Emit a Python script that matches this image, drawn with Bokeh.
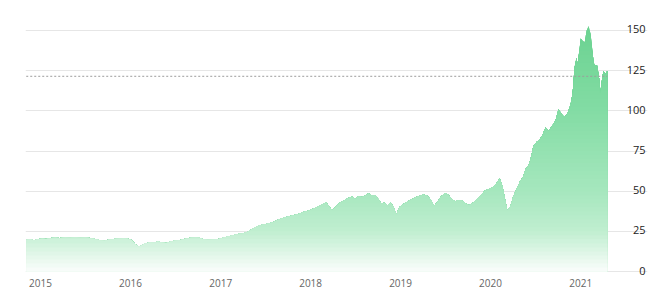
import numpy as np
import pandas as pd
from bokeh.plotting import figure
from bokeh.models import Range1d, FixedTicker, DatetimeTickFormatter
from bokeh.core.properties import value
from bokeh.embed import file_html
from bokeh.resources import INLINE

# ---------------- data ----------------
dates = [
    "2014-11-04", "2014-11-20", "2014-12-06", "2014-12-23", "2015-01-09", "2015-01-25",
    "2015-02-10", "2015-03-01", "2015-03-21", "2015-04-11", "2015-05-01", "2015-05-21",
    "2015-06-11", "2015-07-01", "2015-07-21", "2015-08-11", "2015-09-01", "2015-09-17",
    "2015-10-03", "2015-10-23", "2015-11-13", "2015-12-03", "2015-12-19", "2016-01-05",
    "2016-01-21", "2016-02-02", "2016-02-15", "2016-02-27", "2016-03-09", "2016-03-21",
    "2016-04-07", "2016-04-23", "2016-05-09", "2016-05-25", "2016-06-11", "2016-07-01",
    "2016-07-21", "2016-08-11", "2016-09-01", "2016-09-21", "2016-10-07", "2016-10-23",
    "2016-11-09", "2016-11-29", "2016-12-19", "2017-01-09", "2017-01-29", "2017-02-19",
    "2017-03-09", "2017-03-29", "2017-04-19", "2017-05-05", "2017-05-21", "2017-06-07",
    "2017-06-23", "2017-07-13", "2017-08-03", "2017-08-23", "2017-09-13", "2017-10-03",
    "2017-10-23", "2017-11-13", "2017-12-03", "2017-12-23", "2018-01-13", "2018-02-02",
    "2018-02-19", "2018-03-05", "2018-03-17", "2018-03-29", "2018-04-15", "2018-05-01",
    "2018-05-17", "2018-06-03", "2018-06-19", "2018-07-01", "2018-07-13", "2018-07-29",
    "2018-08-15", "2018-08-23", "2018-09-05", "2018-09-21", "2018-10-03", "2018-10-15",
    "2018-10-27", "2018-11-09", "2018-11-21", "2018-12-03", "2018-12-15", "2018-12-27",
    "2019-01-13", "2019-01-29", "2019-02-15", "2019-03-01", "2019-03-17", "2019-04-03",
    "2019-04-19", "2019-05-05", "2019-05-17", "2019-05-29", "2019-06-15", "2019-07-01",
    "2019-07-13", "2019-07-29", "2019-08-11", "2019-08-23", "2019-09-09", "2019-09-25",
    "2019-10-07", "2019-10-23", "2019-11-09", "2019-11-25", "2019-12-11", "2019-12-27",
    "2020-01-13", "2020-01-25", "2020-02-07", "2020-02-19", "2020-03-01", "2020-03-09",
    "2020-03-21", "2020-04-03", "2020-04-19", "2020-05-01", "2020-05-13", "2020-05-21",
    "2020-06-03", "2020-06-11", "2020-06-23", "2020-07-05", "2020-07-17", "2020-07-29",
    "2020-08-11", "2020-08-23", "2020-09-09", "2020-09-21", "2020-10-03", "2020-10-15",
    "2020-10-27", "2020-11-09", "2020-11-21", "2020-11-29", "2020-12-07", "2020-12-15",
    "2020-12-19", "2020-12-27", "2021-01-01", "2021-01-09", "2021-01-17", "2021-01-25",
    "2021-02-02", "2021-02-10", "2021-02-19", "2021-02-23", "2021-03-01", "2021-03-09",
    "2021-03-17", "2021-03-21", "2021-03-29", "2021-04-03", "2021-04-11", "2021-04-19",
]
prices = [
    19.8, 20.0, 19.4, 20.2, 20.4, 20.2,
    20.8, 21.0, 20.8, 21.2, 21.0, 21.3,
    21.0, 21.2, 20.9, 20.3, 19.5, 19.2,
    19.8, 20.3, 20.6, 20.9, 20.6, 19.6,
    17.0, 15.6, 16.2, 17.4, 17.7, 18.4,
    18.2, 18.6, 18.0, 17.8, 18.6, 19.3,
    19.6, 20.4, 21.0, 21.2, 21.0, 20.0,
    19.7, 19.9, 20.1, 21.0, 21.8, 22.6,
    23.3, 23.7, 24.6, 26.2, 27.6, 28.8,
    29.2, 29.8, 30.8, 32.3, 33.5, 34.3,
    35.0, 35.8, 37.0, 37.8, 39.2, 40.6,
    42.0, 43.1, 40.5, 38.2, 40.5, 43.0,
    44.2, 45.8, 46.5, 45.2, 46.8, 46.3,
    47.6, 48.7, 47.4, 47.6, 45.0, 42.5,
    42.8, 41.2, 43.0, 40.5, 35.5, 40.0,
    42.0, 43.5, 44.8, 46.0, 47.0, 48.0,
    47.2, 44.5, 41.0, 43.0, 46.8, 48.8,
    48.0, 45.0, 43.8, 44.5, 44.0, 42.0,
    41.2, 43.0, 45.5, 48.0, 50.5, 51.5,
    52.8, 55.0, 58.0, 53.0, 44.0, 38.0,
    40.5, 47.0, 52.5, 56.5, 59.0, 63.5,
    66.0, 69.5, 78.0, 80.5, 82.0, 84.6,
    89.6, 87.5, 91.0, 94.0, 101.0, 98.0,
    96.0, 98.5, 104.0, 110.7, 127.0, 133.0,
    129.0, 138.0, 145.0, 143.5, 142.5, 150.0,
    153.0, 148.0, 135.0, 129.5, 128.5, 128.0,
    120.0, 111.0, 120.0, 125.0, 123.0, 125.0,
]
y_ticks = [0, 25, 50, 75, 100, 125, 150]
year_labels = [2015, 2016, 2017, 2018, 2019, 2020, 2021]
ref_level = 121.5

# ---------------- styling ----------------
x = pd.to_datetime(dates)
v = np.array(prices, dtype=float)

x_start = pd.Timestamp("2014-11-01")
x_end = pd.Timestamp("2021-09-29")

p = figure(width=660, height=299, x_axis_type="datetime",
           x_range=Range1d(x_start, x_end), y_range=Range1d(-3.11, 168.67),
           y_axis_location=None, toolbar_location=None, output_backend="svg",
           min_border_left=25, min_border_right=13, min_border_top=0,
           min_border_bottom=23)
p.outline_line_color = None
p.background_fill_color = "white"
p.border_fill_color = "white"
p.xgrid.grid_line_color = None
p.ygrid.ticker = FixedTicker(ticks=y_ticks)
p.ygrid.grid_line_color = "#e6e6e6"
p.ygrid.grid_line_width = 1

# vertical gradient fill emulated by stacked layers
stops_v = [0, 25, 50, 100, 155]
stops_c = [(250, 253, 251), (192, 238, 208), (166, 231, 190), (131, 220, 164), (106, 210, 144)]

def grad_color(val):
    r = np.interp(val, stops_v, [c[0] for c in stops_c])
    g = np.interp(val, stops_v, [c[1] for c in stops_c])
    b = np.interp(val, stops_v, [c[2] for c in stops_c])
    return "#%02x%02x%02x" % (int(round(r)), int(round(g)), int(round(b)))

step = 2.5
levels = np.arange(step, v.max() + step, step)
zeros = np.zeros_like(v)
for L in levels[::-1]:
    top = np.minimum(v, L)
    p.varea(x=x, y1=zeros, y2=top, fill_color=grad_color(L - step / 2), fill_alpha=1.0)

# dotted reference line
p.line(x=[x[0], x[-1]], y=[ref_level, ref_level], line_color="#9c9c9c",
       line_width=1, line_dash="2 2")

# y labels inside the plot, on the right, above each grid line
p.text(x=[x_end] * len(y_ticks), y=y_ticks, text=[str(t) for t in y_ticks],
       text_align="right", text_baseline="alphabetic", x_offset=-2, y_offset=-1,
       text_font=value("Open Sans"), text_font_size="11px", text_color="#222222")

# x axis
year_ms = [(pd.Timestamp(f"{y}-01-01") - pd.Timestamp("1970-01-01")) // pd.Timedelta(milliseconds=1)
           for y in year_labels]
xa = p.xaxis[0]
xa.ticker = FixedTicker(ticks=year_ms)
xa.formatter = DatetimeTickFormatter(years="%Y", months="%Y", days="%Y", hours="%Y",
                                     minutes="%Y", seconds="%Y", milliseconds="%Y")
xa.axis_line_color = None
xa.major_tick_line_color = None
xa.minor_tick_line_color = None
xa.major_tick_out = 0
xa.major_tick_in = 0
xa.minor_tick_out = 0
xa.minor_tick_in = 0
xa.major_label_standoff = 2
xa.major_label_text_font = "Open Sans"
xa.major_label_text_font_size = "10px"
xa.major_label_text_color = "#666666"

open("out.html", "w").write(file_html(p, INLINE))
